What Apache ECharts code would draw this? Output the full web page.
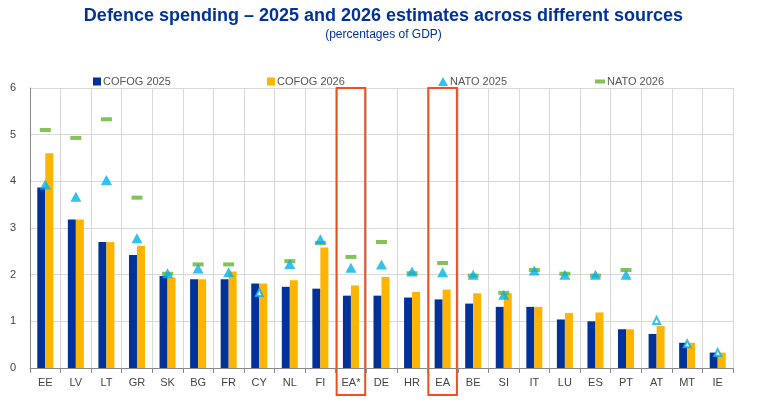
<!DOCTYPE html>
<html>
<head>
<meta charset="utf-8">
<script src="https://cdn.jsdelivr.net/npm/echarts@6/dist/echarts.min.js"></script>
<style>
  body, html { margin: 0; background: #fff; }
  #main { width: 767px; height: 402px; }
</style>
</head>
<body>
<div id="main"></div>
<script>
var countries = ['EE','LV','LT','GR','SK','BG','FR','CY','NL','FI','EA*','DE','HR','EA','BE','SI','IT','LU','ES','PT','AT','MT','IE'];
var cofog2025 = [3.87,3.18,2.70,2.42,1.97,1.90,1.90,1.81,1.74,1.70,1.55,1.55,1.51,1.47,1.38,1.31,1.31,1.04,1.00,0.83,0.73,0.54,0.33];
var cofog2026 = [4.60,3.18,2.70,2.62,1.94,1.90,2.07,1.81,1.88,2.58,1.77,1.95,1.63,1.68,1.60,1.60,1.31,1.18,1.19,0.83,0.90,0.54,0.33];
var nato2025  = [3.93,3.67,4.03,2.78,2.03,2.13,2.05,1.62,2.23,2.76,2.15,2.22,2.07,2.05,2.00,1.57,2.09,2.00,2.00,2.00,1.02,0.52,0.33];
var nato2026  = [5.10,4.93,5.33,3.65,2.02,2.22,2.22,null,2.29,2.68,2.38,2.70,2.03,2.25,1.98,1.61,2.10,2.02,1.98,2.10,null,null,null];
// countries whose NATO 2025 marker is drawn small and hollow
var smallMarker = ['CY','AT','MT','IE'];
var boxed = ['EA*','EA'];

var chart = echarts.init(document.getElementById('main'));
var font = 'Liberation Sans, Arial, sans-serif';

var nato25Data = nato2025.map(function (v, i) {
    if (smallMarker.indexOf(countries[i]) >= 0) {
        return { value: v, symbolSize: 7, itemStyle: { color: '#fff', borderColor: '#00b1ea', borderWidth: 2 } };
    }
    return v;
});

function legendAt(name, left, icon, w, h) {
    return {
        data: [{ name: name, icon: icon }], left: left, top: 71, itemWidth: w, itemHeight: h, itemGap: 2,
        textStyle: { fontFamily: font, fontSize: 11, color: '#555', padding: [0, 0, 0, -3] }
    };
}

var option = {
    animation: false,
    title: {
        text: 'Defence spending \u2013 2025 and 2026 estimates across different sources',
        subtext: '(percentages of GDP)',
        left: 'center', top: 2, itemGap: 4,
        textStyle: { fontFamily: font, fontSize: 18, fontWeight: 'bold', color: '#003299' },
        subtextStyle: { fontFamily: font, fontSize: 12, color: '#003299' }
    },
    legend: [
        legendAt('COFOG 2025', 88, 'rect', 8, 8),
        legendAt('COFOG 2026', 262, 'rect', 8, 8),
        legendAt('NATO 2025', 433, 'triangle', 10, 9),
        legendAt('NATO 2026', 590, 'rect', 10, 4)
    ],
    grid: { left: 30, right: 34, top: 88, bottom: 34 },
    xAxis: {
        type: 'category',
        data: countries,
        axisLine: { lineStyle: { color: '#888' } },
        axisTick: { show: true, length: 5, lineStyle: { color: '#888' } },
        axisLabel: { fontFamily: font, fontSize: 11, color: '#444', margin: 9 },
        splitLine: { show: true, lineStyle: { color: '#d9d9d9' } }
    },
    yAxis: {
        type: 'value', min: 0, max: 6, interval: 1,
        axisLine: { show: true, lineStyle: { color: '#888' } },
        axisLabel: { fontFamily: font, fontSize: 11, color: '#444', margin: 14 },
        splitLine: { lineStyle: { color: '#d9d9d9' } }
    },
    series: [
        { name: 'COFOG 2025', type: 'bar', data: cofog2025, barWidth: 8, barGap: '0%', itemStyle: { color: '#003299' } },
        { name: 'COFOG 2026', type: 'bar', data: cofog2026, barWidth: 8, itemStyle: { color: '#ffb400' } },
        { name: 'NATO 2025', type: 'scatter', data: nato25Data, symbol: 'triangle', symbolSize: [11, 10], itemStyle: { color: '#00b1ea' }, z: 5 },
        { name: 'NATO 2026', type: 'scatter', data: nato2026, symbol: 'rect', symbolSize: [11, 4], itemStyle: { color: '#65b32e' }, z: 4 }
    ]
};
chart.setOption(option);

// red boxes around the euro area categories, placed from the axis scale
var step = chart.convertToPixel({ xAxisIndex: 0 }, countries[1]) - chart.convertToPixel({ xAxisIndex: 0 }, countries[0]);
var boxTop = chart.convertToPixel({ yAxisIndex: 0 }, 6);
var boxRects = boxed.map(function (c) {
    var cx = chart.convertToPixel({ xAxisIndex: 0 }, c);
    return {
        type: 'rect',
        shape: { x: cx - step / 2 + 1, y: boxTop, width: step - 2, height: 395 - boxTop },
        style: { fill: 'none', stroke: '#f04e23', lineWidth: 2 }
    };
});
chart.setOption({ graphic: boxRects });
</script>
</body>
</html>
